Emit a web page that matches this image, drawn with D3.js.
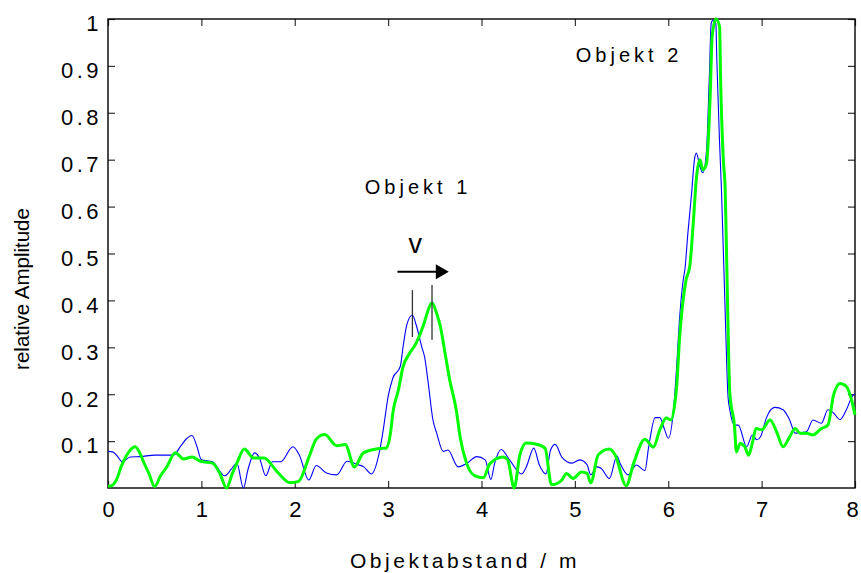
<!DOCTYPE html>
<html>
<head>
<meta charset="utf-8">
<script src="https://cdn.jsdelivr.net/npm/d3@7"></script>
<style>
  body { margin: 0; background: #fff; }
  svg { display: block; font-family: "Liberation Sans", Arial, sans-serif; }
</style>
</head>
<body>
<div id="chart"></div>
<script>
// DATA
const xTicks = [0, 1, 2, 3, 4, 5, 6, 7, 8];
const yTicks = [0.1, 0.2, 0.3, 0.4, 0.5, 0.6, 0.7, 0.8, 0.9, 1];

// blue thin curve: [distance m, relative amplitude]
const blueSeries = [
  [0.0, 0.078], [0.05, 0.077], [0.10, 0.068], [0.15, 0.056], [0.24, 0.066], [0.35, 0.067],
  [0.5, 0.07], [0.6, 0.07], [0.70, 0.07], [0.78, 0.09], [0.84, 0.105], [0.90, 0.112],
  [0.95, 0.09], [1.0, 0.06], [1.12, 0.056], [1.25, 0.026], [1.32, 0.04], [1.38, 0.053],
  [1.45, 0.0], [1.50, 0.04], [1.57, 0.075], [1.62, 0.065], [1.69, 0.026], [1.76, 0.056],
  [1.85, 0.056], [1.98, 0.088], [2.05, 0.07], [2.15, 0.017], [2.23, 0.048], [2.34, 0.032],
  [2.45, 0.028], [2.56, 0.057], [2.67, 0.05], [2.74, 0.045], [2.82, 0.03], [2.91, 0.08],
  [2.95, 0.127], [3.0, 0.195], [3.05, 0.234], [3.13, 0.259], [3.16, 0.301], [3.20, 0.348],
  [3.26, 0.369], [3.30, 0.348], [3.36, 0.301], [3.39, 0.28], [3.43, 0.223], [3.48, 0.145],
  [3.52, 0.117], [3.59, 0.078], [3.64, 0.081], [3.75, 0.045], [3.84, 0.052], [3.95, 0.067],
  [4.04, 0.06], [4.10, 0.018], [4.14, 0.052], [4.21, 0.082], [4.30, 0.06], [4.43, 0.03],
  [4.48, 0.045], [4.56, 0.085], [4.62, 0.049], [4.69, 0.03], [4.74, 0.081], [4.79, 0.093],
  [4.86, 0.066], [4.97, 0.053], [5.05, 0.06], [5.13, 0.05], [5.17, 0.028], [5.23, 0.045],
  [5.28, 0.042], [5.37, 0.02], [5.45, 0.068], [5.49, 0.05], [5.57, 0.028], [5.66, 0.049],
  [5.75, 0.037], [5.79, 0.087], [5.86, 0.15], [5.91, 0.15], [5.96, 0.125], [6.0, 0.106],
  [6.06, 0.175], [6.09, 0.259], [6.12, 0.358], [6.16, 0.443], [6.18, 0.469], [6.21, 0.543],
  [6.25, 0.628], [6.28, 0.699], [6.30, 0.714], [6.34, 0.685], [6.37, 0.672], [6.41, 0.72],
  [6.44, 0.877], [6.46, 0.991], [6.48, 0.998], [6.51, 0.99], [6.52, 0.913], [6.55, 0.735],
  [6.57, 0.635], [6.61, 0.373], [6.64, 0.195], [6.66, 0.166], [6.71, 0.134], [6.75, 0.134],
  [6.84, 0.088], [6.90, 0.113], [6.95, 0.103], [6.99, 0.11], [7.05, 0.149], [7.14, 0.172],
  [7.23, 0.167], [7.30, 0.145], [7.36, 0.117], [7.48, 0.12], [7.55, 0.145], [7.64, 0.138],
  [7.71, 0.167], [7.77, 0.16], [7.84, 0.146], [7.91, 0.168], [7.98, 0.198], [8.0, 0.2]
];

// green thick curve
const greenSeries = [
  [0.0, 0.004], [0.02, 0.004], [0.09, 0.017], [0.14, 0.045], [0.2, 0.07], [0.29, 0.088],
  [0.34, 0.075], [0.38, 0.056], [0.44, 0.03], [0.50, 0.003], [0.56, 0.025], [0.63, 0.045],
  [0.72, 0.075], [0.81, 0.062], [0.90, 0.066], [0.99, 0.057], [1.12, 0.053], [1.2, 0.03],
  [1.27, 0.0], [1.33, 0.03], [1.38, 0.053], [1.46, 0.083], [1.56, 0.064], [1.67, 0.064],
  [1.81, 0.035], [1.95, 0.011], [2.04, 0.014], [2.16, 0.07], [2.23, 0.104], [2.32, 0.114],
  [2.45, 0.09], [2.54, 0.093], [2.64, 0.045], [2.73, 0.074], [2.82, 0.081], [2.95, 0.085],
  [2.98, 0.085], [3.03, 0.124], [3.05, 0.159], [3.11, 0.209], [3.16, 0.259], [3.22, 0.284],
  [3.30, 0.309], [3.38, 0.348], [3.43, 0.38], [3.47, 0.395], [3.52, 0.372], [3.56, 0.344],
  [3.61, 0.287], [3.66, 0.23], [3.73, 0.166], [3.77, 0.11], [3.84, 0.053], [3.93, 0.026],
  [4.02, 0.022], [4.09, 0.052], [4.23, 0.066], [4.28, 0.06], [4.35, 0.0], [4.41, 0.07],
  [4.48, 0.096], [4.58, 0.094], [4.68, 0.085], [4.75, 0.007], [4.86, 0.017], [4.91, 0.031],
  [4.98, 0.02], [5.07, 0.034], [5.13, 0.031], [5.17, 0.011], [5.25, 0.071], [5.37, 0.083],
  [5.43, 0.071], [5.55, 0.005], [5.63, 0.053], [5.75, 0.104], [5.84, 0.087], [5.91, 0.124],
  [5.98, 0.149], [6.03, 0.145], [6.07, 0.18], [6.09, 0.216], [6.12, 0.316], [6.19, 0.443],
  [6.23, 0.472], [6.27, 0.571], [6.30, 0.657], [6.34, 0.70], [6.37, 0.678], [6.41, 0.692],
  [6.45, 0.842], [6.47, 0.962], [6.51, 1.0], [6.55, 0.984], [6.56, 0.877], [6.59, 0.70],
  [6.61, 0.635], [6.63, 0.443], [6.66, 0.2], [6.71, 0.131], [6.73, 0.077], [6.77, 0.095],
  [6.82, 0.088], [6.86, 0.07], [6.90, 0.095], [6.94, 0.127], [7.0, 0.124], [7.09, 0.145],
  [7.16, 0.12], [7.23, 0.088], [7.30, 0.109], [7.36, 0.127], [7.41, 0.117], [7.48, 0.117],
  [7.55, 0.113], [7.64, 0.127], [7.71, 0.134], [7.77, 0.198], [7.84, 0.223], [7.91, 0.216],
  [7.96, 0.19], [8.0, 0.156]
];

// CHART
const width = 861;
const height = 573;
const margin = { top: 19, right: 6, bottom: 85, left: 108 };
const plotW = width - margin.left - margin.right;
const plotH = height - margin.top - margin.bottom;

const svg = d3.select("#chart")
  .append("svg")
  .attr("width", width)
  .attr("height", height);

const g = svg.append("g")
  .attr("transform", "translate(" + margin.left + "," + margin.top + ")");

const x = d3.scaleLinear().domain([0, 8]).range([0, plotW]);
const y = d3.scaleLinear().domain([0, 1]).range([plotH, 0]);

// axes: ticks point inward on all four sides
const tickLen = 7;
const fmt = d => String(d);

const xAxis = g.append("g")
  .attr("transform", "translate(0," + plotH + ")")
  .call(d3.axisBottom(x).tickValues(xTicks).tickFormat(fmt).tickSizeInner(-tickLen).tickSizeOuter(0).tickPadding(13));

const yAxis = g.append("g")
  .call(d3.axisLeft(y).tickValues(yTicks).tickFormat(fmt).tickSizeInner(-tickLen).tickSizeOuter(0).tickPadding(6));

g.append("g")
  .call(d3.axisTop(x).tickValues(xTicks).tickFormat("").tickSizeInner(-tickLen).tickSizeOuter(0));

g.append("g")
  .attr("transform", "translate(" + plotW + ",0)")
  .call(d3.axisRight(y).tickValues(yTicks).tickFormat("").tickSizeInner(-tickLen).tickSizeOuter(0));

g.selectAll(".domain").remove();
g.selectAll(".tick line").attr("stroke", "#333").attr("stroke-width", 1.2);

xAxis.selectAll("text")
  .attr("font-size", 22)
  .attr("letter-spacing", 3)
  .attr("dx", d => d === 8 ? -1.5 : 1.5)
  .attr("fill", "#000");

yAxis.selectAll("text")
  .attr("font-size", 22)
  .attr("letter-spacing", 3.5)
  .attr("dy", "0.54em")
  .attr("fill", "#000");

// frame
g.append("rect")
  .attr("x", 0)
  .attr("y", 0)
  .attr("width", plotW)
  .attr("height", plotH)
  .attr("fill", "none")
  .attr("stroke", "#000")
  .attr("stroke-width", 1.4);

// curves
const line = d3.line()
  .x(d => x(d[0]))
  .y(d => y(d[1]))
  .curve(d3.curveMonotoneX);

g.append("path")
  .attr("d", line(blueSeries))
  .attr("fill", "none")
  .attr("stroke", "#0000ff")
  .attr("stroke-width", 1.1);

g.append("path")
  .attr("d", line(greenSeries))
  .attr("fill", "none")
  .attr("stroke", "#00ff00")
  .attr("stroke-width", 3);

// annotations
function label(text, mx, my, size, ls) {
  g.append("text")
    .attr("x", x(mx))
    .attr("y", y(my))
    .attr("font-size", size)
    .attr("letter-spacing", ls)
    .text(text);
}
label("Objekt 1", 2.75, 0.626, 20, 4);
label("Objekt 2", 5.01, 0.908, 20, 4);

g.append("text")
  .attr("x", x(3.29))
  .attr("y", y(0.502))
  .attr("text-anchor", "middle")
  .attr("font-size", 27)
  .attr("font-weight", 300)
  .text("v");

// velocity arrow
g.append("line")
  .attr("x1", x(3.1)).attr("x2", x(3.52))
  .attr("y1", y(0.461)).attr("y2", y(0.461))
  .attr("stroke", "#000")
  .attr("stroke-width", 2);

const tipX = x(3.65), tipY = y(0.461);
g.append("path")
  .attr("d", "M" + tipX + "," + tipY + "L" + (tipX - 13) + "," + (tipY - 7.5) + "L" + (tipX - 13) + "," + (tipY + 7.5) + "Z")
  .attr("fill", "#000");

// peak markers from the two object-1 maxima
const peakBlue = d3.greatest(blueSeries.filter(d => d[0] < 4), d => d[1]);
const peakGreen = d3.greatest(greenSeries.filter(d => d[0] < 4), d => d[1]);
[[peakBlue, 0.422, 0.322], [peakGreen, 0.433, 0.316]].forEach(([p, top, bot]) => {
  g.append("line")
    .attr("x1", x(p[0])).attr("x2", x(p[0]))
    .attr("y1", y(top)).attr("y2", y(bot))
    .attr("stroke", "#333")
    .attr("stroke-width", 1.3);
});

// axis titles
svg.append("text")
  .attr("transform", "translate(29,289) rotate(-90)")
  .attr("text-anchor", "middle")
  .attr("font-size", 20.5)
  .text("relative Amplitude");

svg.append("text")
  .attr("x", 465)
  .attr("y", 568)
  .attr("text-anchor", "middle")
  .attr("font-size", 21)
  .attr("letter-spacing", 3.5)
  .text("Objektabstand / m");
</script>
</body>
</html>
